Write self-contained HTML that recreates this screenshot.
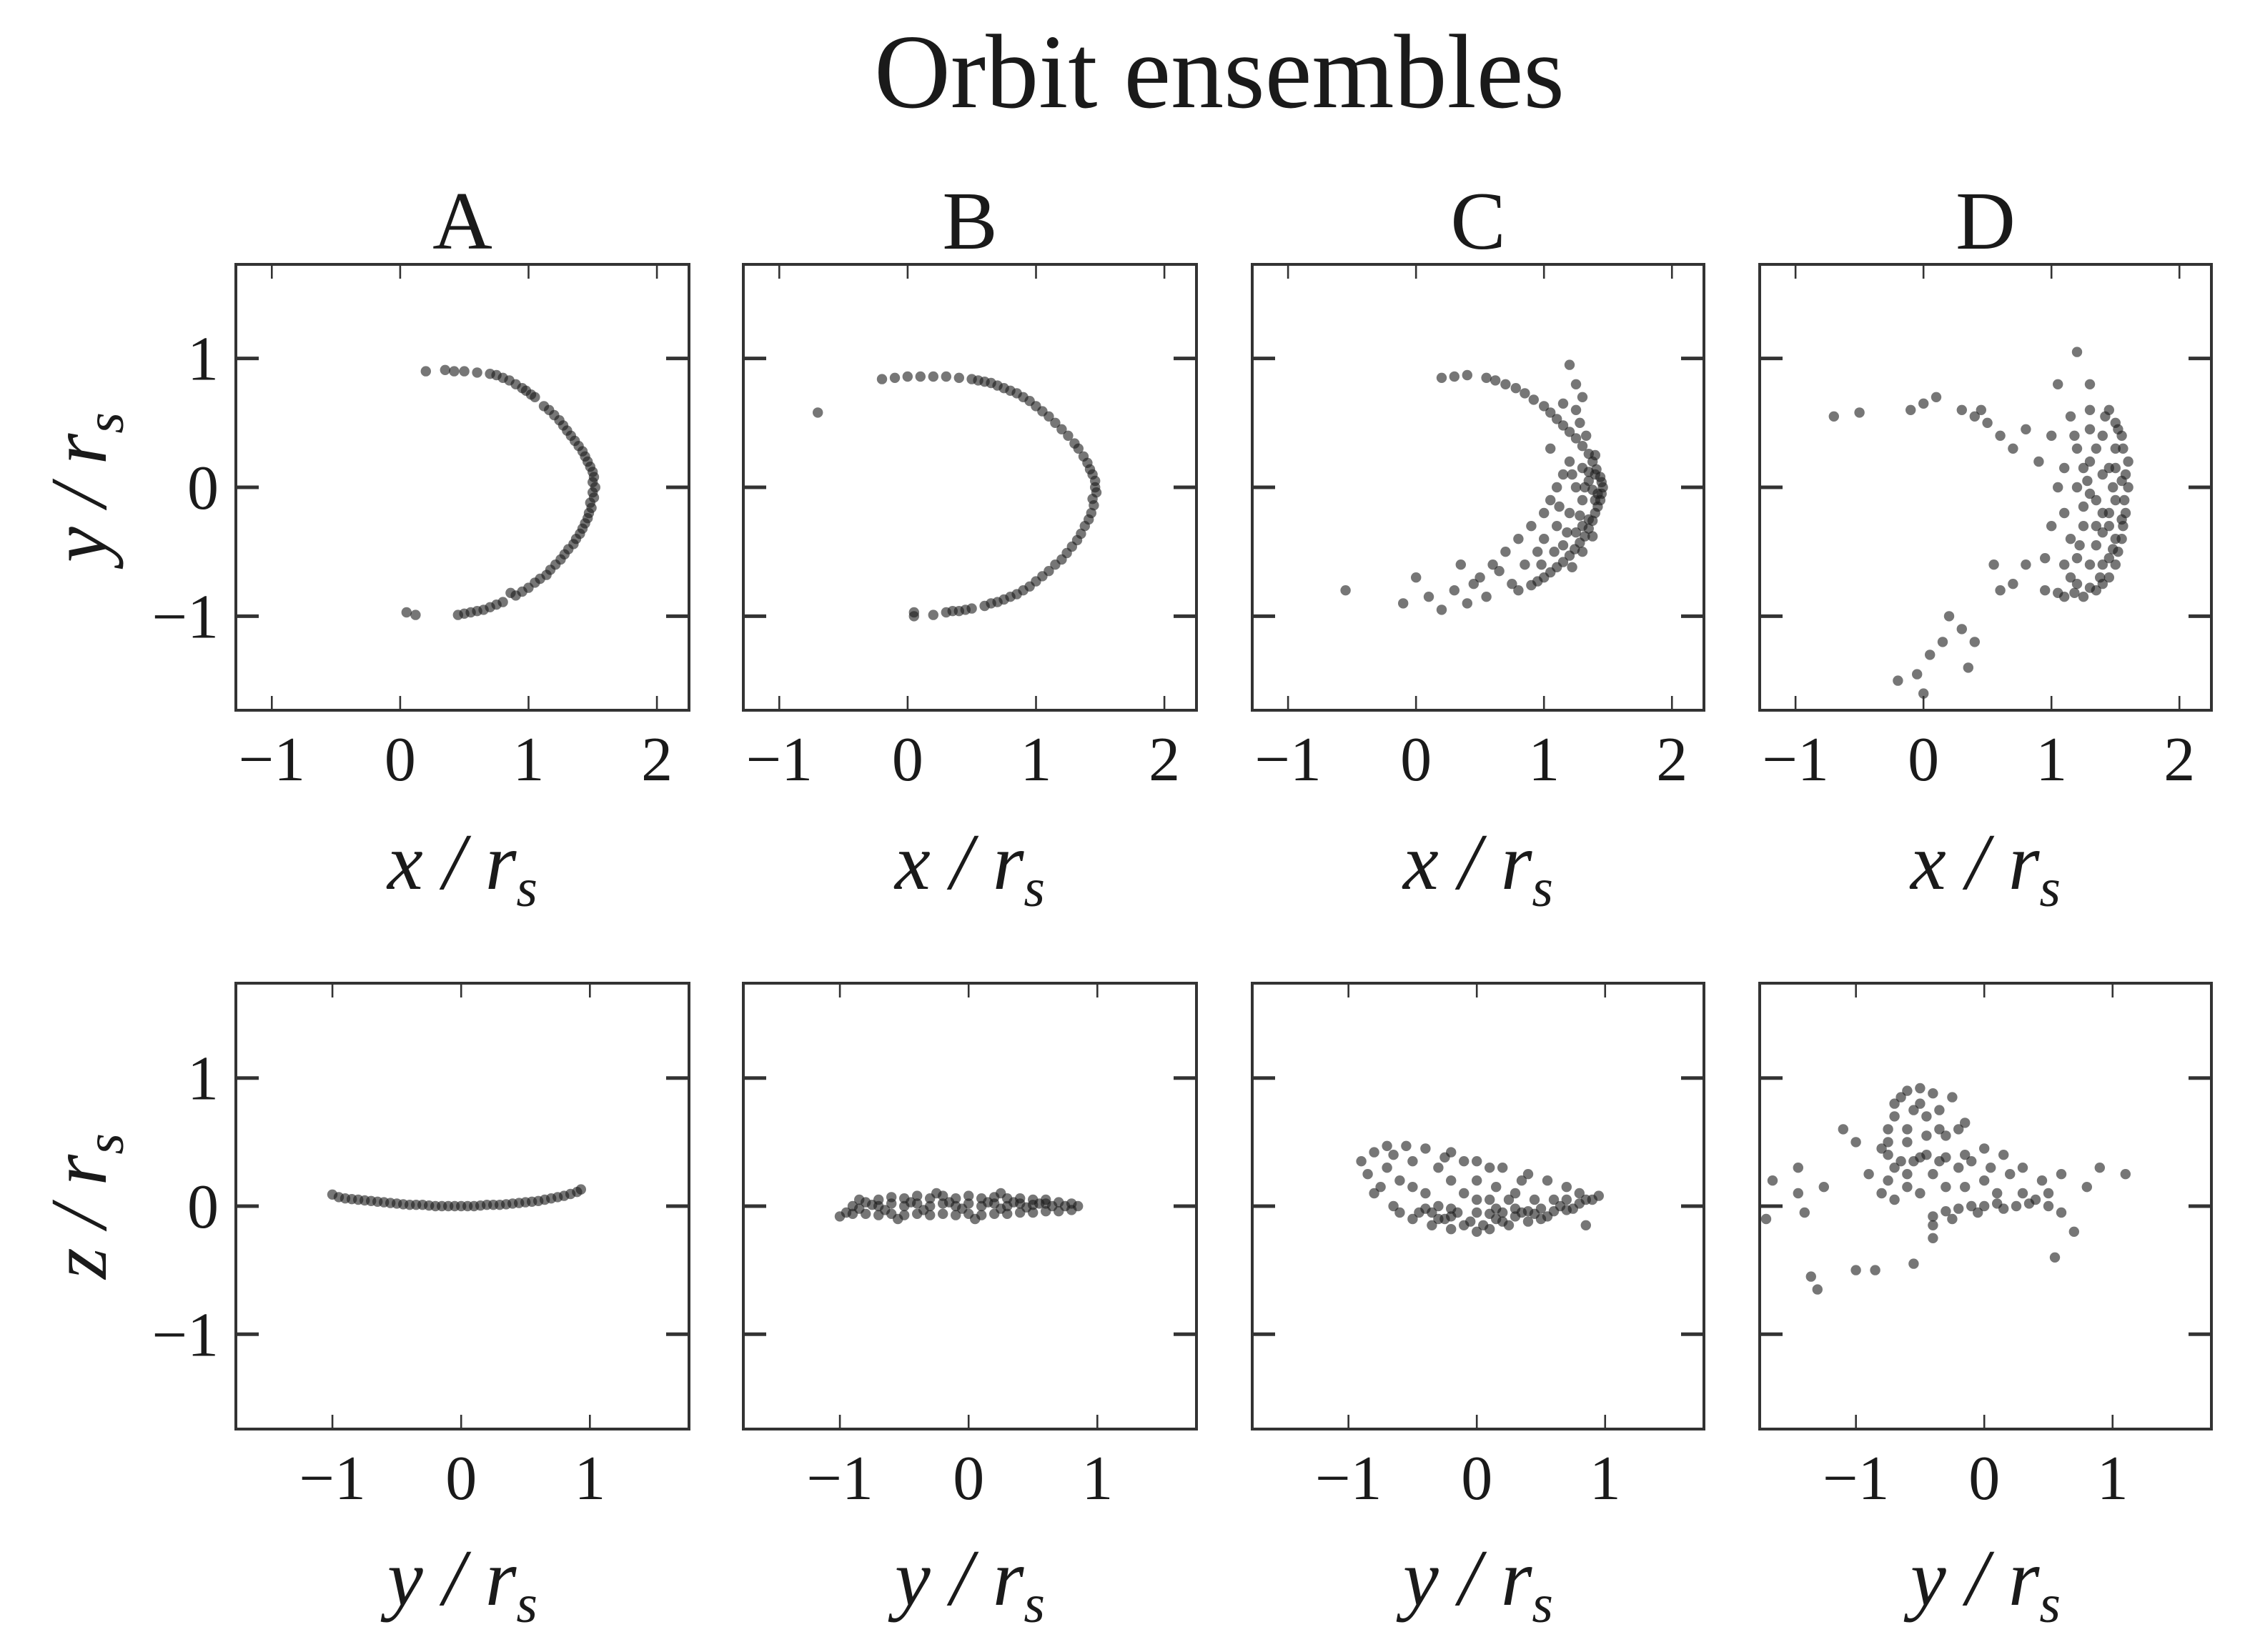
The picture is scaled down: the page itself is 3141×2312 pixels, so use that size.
<!DOCTYPE html>
<html><head><meta charset="utf-8">
<style>
html,body{margin:0;padding:0;background:#fff;}
svg{display:block;}
text{font-family:"Liberation Serif",serif;fill:#1a1a1a;}
</style></head>
<body>
<svg id="fig" width="3141" height="2312" viewBox="0 0 1570.5 1156" xmlns="http://www.w3.org/2000/svg">
<text x="853" y="75" font-size="74" text-anchor="middle">Orbit ensembles</text>
</svg>
<script>
// ---- data (hand-estimated from the reference) ----
const topA = [[0.2,0.9],[0.35,0.91],[0.42,0.9],[0.5,0.9],[0.6,0.89],[0.7,0.88],[0.8,0.85],[0.9,0.8],[0.98,0.75],[1.05,0.7],[1.12,0.63],[1.2,0.56],[1.27,0.48],[1.33,0.4],[1.39,0.32],[1.44,0.24],[1.48,0.16],[1.51,0.08],[1.52,0],[1.51,-0.08],[1.49,-0.16],[1.46,-0.24],[1.42,-0.32],[1.37,-0.4],[1.31,-0.48],[1.25,-0.56],[1.17,-0.64],[1.09,-0.71],[1.0,-0.78],[0.9,-0.84],[0.8,-0.89],[0.7,-0.93],[0.6,-0.96],[0.5,-0.98],[0.45,-0.99],[0.05,-0.97],[0.12,-0.99],[0.86,-0.82],[1.14,-0.68],[1.35,-0.44],[1.47,-0.2],[1.5,0.12],[1.42,0.28],[1.24,0.52],[0.95,0.77],[0.75,0.87],[0.85,0.83],[1.02,0.72],[1.16,0.6],[1.3,0.44],[1.36,0.36],[1.46,0.2],[1.5,0.04],[1.5,-0.04],[1.48,-0.12],[1.44,-0.28],[1.4,-0.36],[1.28,-0.52],[1.21,-0.6],[1.05,-0.74],[0.95,-0.81],[0.75,-0.91],[0.65,-0.95],[0.55,-0.97]];
const topB = [[-0.7,0.58],[-0.2,0.84],[-0.1,0.85],[0,0.86],[0.1,0.86],[0.2,0.86],[0.3,0.86],[0.4,0.85],[0.5,0.84],[0.6,0.82],[0.7,0.79],[0.8,0.75],[0.9,0.7],[1.0,0.63],[1.1,0.55],[1.2,0.45],[1.3,0.34],[1.37,0.24],[1.42,0.14],[1.46,0.05],[1.47,-0.04],[1.45,-0.14],[1.41,-0.25],[1.35,-0.36],[1.28,-0.46],[1.2,-0.56],[1.1,-0.65],[1.0,-0.73],[0.9,-0.8],[0.8,-0.85],[0.7,-0.89],[0.6,-0.92],[0.5,-0.94],[0.4,-0.96],[0.3,-0.97],[0.2,-0.99],[0.05,-0.97],[0.05,-1.0],[0.95,0.67],[1.15,0.5],[1.33,0.3],[1.44,0.1],[1.43,-0.2],[1.32,-0.41],[1.05,-0.69],[0.85,-0.83],[0.65,0.81],[0.75,0.77],[0.55,0.83],[0.85,0.73],[1.05,0.59],[1.25,0.4],[1.4,0.19],[1.46,0.0],[1.44,-0.09],[1.38,-0.3],[1.24,-0.51],[1.15,-0.6],[0.95,-0.77],[0.75,-0.87],[0.65,-0.9],[0.45,-0.95],[0.35,-0.96]];
const topC = [[0.2,0.85],[0.4,0.87],[0.55,0.85],[0.7,0.8],[0.85,0.73],[1.0,0.63],[1.1,0.53],[1.2,0.43],[1.3,0.32],[1.38,0.2],[1.44,0.08],[1.46,0],[1.44,-0.1],[1.4,-0.2],[1.35,-0.32],[1.28,-0.43],[1.2,-0.53],[1.1,-0.62],[1.0,-0.7],[0.9,-0.76],[0.8,-0.8],[-0.55,-0.8],[-0.1,-0.9],[0.1,-0.85],[0.2,-0.95],[0.3,-0.8],[0.4,-0.9],[0.5,-0.7],[0.55,-0.85],[0.6,-0.6],[0.7,-0.5],[0.75,-0.75],[0.8,-0.4],[0.85,-0.6],[0.9,-0.3],[0.95,-0.5],[1.0,-0.2],[1.0,-0.4],[1.05,-0.1],[1.1,0.0],[1.1,-0.3],[1.15,0.1],[1.15,-0.45],[1.2,-0.2],[1.2,0.2],[1.25,0.0],[1.25,-0.35],[1.3,-0.1],[1.3,0.15],[1.35,-0.25],[1.35,0.05],[1.4,-0.1],[1.25,0.6],[1.2,0.95],[1.3,0.7],[1.28,0.5],[1.15,0.65],[1.25,0.8],[1.33,0.4],[1.4,0.25],[1.38,-0.38],[1.3,-0.5],[1.22,-0.62],[0.65,-0.65],[0.35,-0.6],[0.45,-0.75],[0.0,-0.7],[1.05,0.3],[1.12,-0.15],[1.42,-0.05],[0.3,0.86],[0.62,0.83],[0.78,0.77],[0.92,0.68],[1.05,0.58],[1.15,0.48],[1.25,0.38],[1.35,0.26],[1.41,0.14],[1.45,0.04],[1.45,-0.05],[1.42,-0.15],[1.38,-0.26],[1.32,-0.38],[1.24,-0.48],[1.15,-0.58],[1.05,-0.66],[0.95,-0.73],[1.35,0.12],[1.38,-0.02],[1.32,0.0],[1.28,-0.22],[1.18,-0.35],[1.08,-0.5],[0.98,-0.6],[1.22,0.1],[1.3,-0.3],[1.4,0.1]];
const topD = [[-0.7,0.55],[-0.5,0.58],[-0.1,0.6],[0.0,0.65],[0.1,0.7],[0.3,0.6],[0.4,0.55],[0.45,0.6],[0.5,0.5],[0.6,0.4],[0.7,0.3],[0.8,0.45],[0.9,0.2],[0.55,-0.6],[0.6,-0.8],[0.7,-0.75],[0.8,-0.6],[0.2,-1.0],[0.3,-1.1],[0.35,-1.4],[0.05,-1.3],[-0.05,-1.45],[0.0,-1.6],[-0.2,-1.5],[0.15,-1.2],[0.4,-1.2],[1.2,1.05],[1.3,0.8],[1.45,0.6],[1.55,0.4],[1.6,0.2],[1.6,0],[1.58,-0.2],[1.55,-0.4],[1.5,-0.6],[1.4,-0.75],[1.25,-0.85],[1.1,-0.85],[0.95,-0.8],[1.2,0.3],[1.3,0.2],[1.4,0.1],[1.5,0.3],[1.35,-0.1],[1.45,-0.2],[1.25,-0.3],[1.35,-0.45],[1.2,-0.55],[1.3,-0.6],[1.1,-0.6],[1.15,-0.4],[1.0,-0.3],[1.05,0.0],[1.1,0.15],[1.2,0.0],[1.3,0.45],[1.4,0.4],[1.5,-0.4],[1.45,0.15],[1.55,0.05],[1.25,-0.15],[1.4,-0.6],[1.0,0.4],[0.95,-0.55],[1.15,0.55],[1.05,0.8],[1.5,0.5],[1.45,-0.7],[1.2,-0.75],[1.35,-0.8],[1.3,-0.05],[1.4,-0.35],[1.5,-0.1],[1.55,-0.25],[1.3,0.6],[1.1,-0.2],[1.52,0.45],[1.56,0.3],[1.58,0.1],[1.57,-0.1],[1.56,-0.3],[1.52,-0.5],[1.45,-0.55],[1.38,-0.7],[1.3,-0.78],[1.18,-0.82],[1.05,-0.82],[1.48,0.0],[1.45,-0.3],[1.35,0.3],[1.28,0.05],[1.22,-0.45],[1.15,-0.7],[1.4,-0.2],[1.5,0.15],[1.35,-0.3],[1.25,0.15],[1.18,0.4],[1.42,0.55],[1.48,-0.48]];
const botA = [[-1,0.09],[-0.95,0.07],[-0.9,0.06],[-0.85,0.055],[-0.8,0.05],[-0.75,0.045],[-0.7,0.04],[-0.65,0.035],[-0.6,0.03],[-0.55,0.025],[-0.5,0.02],[-0.45,0.015],[-0.4,0.01],[-0.35,0.01],[-0.3,0.01],[-0.25,0.005],[-0.2,0],[-0.15,0],[-0.1,0],[-0.05,0],[0,0],[0.05,0],[0.1,0],[0.15,0.005],[0.2,0.01],[0.25,0.01],[0.3,0.01],[0.35,0.015],[0.4,0.02],[0.45,0.025],[0.5,0.03],[0.55,0.035],[0.6,0.04],[0.65,0.05],[0.7,0.06],[0.75,0.07],[0.8,0.08],[0.85,0.095],[0.9,0.11],[0.93,0.13]];
const botB = [[-1.0,-0.08],[-0.95,-0.05],[-0.9,-0.06],[-0.9,0.0],[-0.8,-0.06],[-0.8,0.03],[-0.7,-0.07],[-0.7,0.0],[-0.7,0.05],[-0.6,-0.06],[-0.6,0.02],[-0.6,0.07],[-0.5,-0.07],[-0.5,0.0],[-0.5,0.06],[-0.4,-0.06],[-0.4,0.02],[-0.4,0.08],[-0.3,-0.07],[-0.3,0.0],[-0.3,0.06],[-0.2,-0.06],[-0.2,0.02],[-0.2,0.08],[-0.1,-0.07],[-0.1,0.0],[-0.1,0.06],[0,-0.06],[0,0.02],[0,0.08],[0.1,-0.07],[0.1,0.0],[0.1,0.06],[0.2,-0.06],[0.2,0.02],[0.2,0.07],[0.3,-0.06],[0.3,0.0],[0.3,0.06],[0.4,-0.05],[0.4,0.02],[0.4,0.06],[0.5,-0.05],[0.5,0.01],[0.5,0.05],[0.6,-0.04],[0.6,0.02],[0.6,0.05],[0.7,-0.04],[0.7,0.03],[0.8,-0.03],[0.8,0.02],[0.85,0.0],[-0.85,0.05],[-0.55,-0.1],[0.05,-0.1],[0.25,0.1],[-0.25,0.1],[-0.85,-0.02],[-0.75,0.01],[-0.65,-0.03],[-0.45,0.03],[-0.35,-0.03],[-0.15,0.03],[-0.05,-0.02],[0.15,0.03],[0.25,-0.02],[0.35,0.03],[0.45,-0.01],[0.55,0.02],[0.65,0.0],[0.75,0.0]];
const botC = [[-0.9,0.35],[-0.85,0.25],[-0.8,0.42],[-0.7,0.47],[-0.55,0.47],[-0.4,0.45],[-0.2,0.42],[0,0.35],[0.2,0.3],[0.4,0.25],[0.55,0.2],[0.7,0.15],[0.8,0.1],[0.9,0.05],[-0.8,0.1],[-0.65,0.0],[-0.5,-0.1],[-0.35,-0.15],[-0.2,-0.18],[0,-0.2],[0.1,-0.18],[0.25,-0.15],[0.4,-0.12],[0.55,-0.08],[0.7,-0.03],[0.8,0.02],[-0.7,0.3],[-0.6,0.2],[-0.5,0.35],[-0.4,0.1],[-0.3,0.3],[-0.3,0.0],[-0.2,0.2],[-0.15,-0.05],[-0.1,0.1],[0.0,0.2],[0.0,-0.05],[0.1,0.05],[0.15,0.15],[0.2,-0.05],[0.3,0.1],[0.35,-0.05],[0.45,0.05],[0.5,-0.02],[0.6,0.05],[0.65,0.0],[-0.45,-0.05],[-0.25,-0.1],[-0.05,-0.12],[0.15,-0.1],[0.3,-0.08],[0.45,-0.06],[-0.6,-0.05],[-0.75,0.15],[0.85,-0.15],[0.95,0.08],[-0.1,0.35],[0.35,0.2],[-0.4,-0.02],[-0.3,-0.1],[-0.2,-0.08],[-0.1,-0.15],[0.05,-0.15],[0.1,-0.06],[0.2,-0.12],[0.3,-0.02],[0.4,-0.04],[0.5,-0.1],[0.6,-0.04],[0.7,0.05],[0.75,-0.02],[0.85,0.05],[-0.2,-0.02],[0.0,0.05],[0.25,0.05],[-0.5,0.15],[-0.25,0.38],[0.1,0.3],[-0.65,0.4],[-0.35,-0.05],[0.15,-0.02]];
const botD = [[-0.6,0.9],[-0.5,0.92],[-0.4,0.88],[-0.7,0.8],[-0.55,0.75],[-0.35,0.75],[-0.75,0.6],[-0.6,0.6],[-0.45,0.55],[-0.3,0.55],[-0.75,0.4],[-0.65,0.35],[-0.5,0.38],[-0.35,0.35],[-0.2,0.3],[-0.1,0.35],[-0.75,0.2],[-0.6,0.25],[-0.4,0.25],[-0.15,0.15],[0,0.2],[0.1,0.1],[0.2,0.25],[0.3,0.1],[0.4,0.05],[0.5,0.0],[0.6,-0.05],[-0.4,-0.08],[-0.3,-0.04],[-0.2,-0.02],[-0.1,0.0],[0.0,0.0],[0.1,0.02],[0.25,0.0],[-0.5,0.1],[-0.7,0.05],[-0.3,0.15],[0.15,0.4],[0.3,0.3],[-0.2,0.6],[0.0,0.45],[-1.45,0.3],[-1.45,0.1],[-1.4,-0.05],[-1.65,0.2],[-1.7,-0.1],[-1.25,0.15],[-1.1,0.6],[-1.0,0.5],[-0.9,0.25],[0.45,0.2],[0.6,0.25],[0.8,0.15],[0.9,0.3],[1.1,0.25],[0.7,-0.2],[0.55,-0.4],[-0.4,-0.25],[-1.35,-0.55],[-1.3,-0.65],[-1.0,-0.5],[-0.85,-0.5],[-0.55,-0.45],[-0.8,0.45],[-0.25,0.85],[-0.15,0.65],[-0.7,0.7],[-0.65,0.85],[-0.5,0.8],[-0.45,0.7],[-0.75,0.5],[-0.7,0.3],[-0.55,0.35],[-0.45,0.4],[-0.3,0.38],[-0.15,0.4],[0.05,0.3],[-0.6,0.15],[-0.4,-0.15],[-0.25,-0.1],[-0.05,-0.05],[0.15,-0.02],[0.35,0.02],[0.5,0.1],[-0.8,0.1],[-0.35,0.6],[-0.6,0.5]];
const topXTicks = [-1,0,1,2];
const botXTicks = [-1,0,1];
const yTicks = [-1,0,1];
const panelTitles = ["A","B","C","D"];

const svg = document.getElementById('fig');
const NS = 'http://www.w3.org/2000/svg';
const cols = [[165,482],[520,837],[876,1192],[1231,1547]];
const rows = [{y0:185,y1:497,xd:[-1.28,2.25],yd:[-1.73,1.73],xt:topXTicks,xl:'x',yl:'y',sets:[topA,topB,topC,topD],tly:546,aly:622},
              {y0:688,y1:1000,xd:[-1.75,1.77],yd:[-1.74,1.74],xt:botXTicks,xl:'y',yl:'z',sets:[botA,botB,botC,botD],tly:1049,aly:1123}];
function mk(tag, attrs, parent){const e=document.createElementNS(NS,tag);for(const k in attrs)e.setAttribute(k,attrs[k]);(parent||svg).appendChild(e);return e;}
function fmt(v){return v<0?'\u2212'+Math.abs(v):String(v);}

rows.forEach((r,ri)=>{
  cols.forEach((c,ci)=>{
    const [x0,x1]=c;
    const sx=v=>x0+(v-r.xd[0])/(r.xd[1]-r.xd[0])*(x1-x0);
    const sy=v=>r.y1-(v-r.yd[0])/(r.yd[1]-r.yd[0])*(r.y1-r.y0);
    const g=mk('g',{});
    
    
    r.sets[ci].forEach(p=>{
      const c1=mk('circle',{cx:sx(p[0]).toFixed(1),cy:sy(p[1]).toFixed(1),r:3.6,fill:'#1a1a1a','fill-opacity':0.6},g);
      
      
    });
    r.xt.forEach(t=>{
      const X=sx(t);
      mk('line',{x1:X,x2:X,y1:r.y1,y2:r.y1-10,stroke:'#333','stroke-width':1.3},g);
      mk('line',{x1:X,x2:X,y1:r.y0,y2:r.y0+10,stroke:'#333','stroke-width':1.3},g);
      const tl=mk('text',{x:X,y:r.tly,'font-size':44,'text-anchor':'middle',fill:'#333'},g);
      tl.textContent=fmt(t);
      
      
    });
    yTicks.forEach(t=>{
      const Y=sy(t);
      mk('line',{x1:x0,x2:x0+16,y1:Y,y2:Y,stroke:'#333','stroke-width':2.5},g);
      mk('line',{x1:x1,x2:x1-16,y1:Y,y2:Y,stroke:'#333','stroke-width':2.5},g);
      if(ci===0){
        const tl=mk('text',{x:x0-12,y:Y+15,'font-size':44,'text-anchor':'end',fill:'#333'},g);
        tl.textContent=fmt(t);
        
        
      }
    });
    const fr=mk('rect',{x:x0,y:r.y0,width:x1-x0,height:r.y1-r.y0,fill:'none',stroke:'#333','stroke-width':2},g);
    
    
    const xl=mk('text',{x:(x0+x1)/2,y:r.aly,'font-size':56,'text-anchor':'middle','font-style':'italic'},g);
    xl.innerHTML=r.xl+' / r<tspan font-size="38" dy="12">s</tspan>';
    
    
    if(ci===0){
      const cy=(r.y0+r.y1)/2;
      const yl=mk('text',{x:0,y:0,'font-size':56,'text-anchor':'middle','font-style':'italic',transform:`translate(74,${cy}) rotate(-90)`},g);
      yl.innerHTML=r.yl+' / r<tspan font-size="38" dy="12">s</tspan>';
      
      
    }
    if(ri===0){
      const pt=mk('text',{x:(x0+x1)/2,y:174,'font-size':58,'text-anchor':'middle'},g);
      pt.textContent=panelTitles[ci];
      
      
    }
  });
});
</script>
</body></html>
